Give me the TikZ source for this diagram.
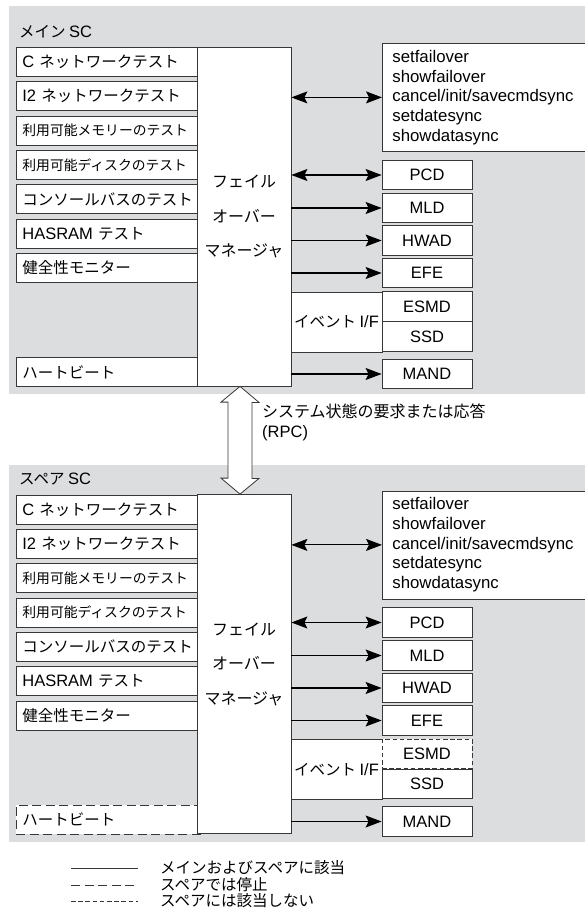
\documentclass[tikz,border=0pt]{standalone}
\usepackage{fontspec}
\setmainfont{Liberation Sans}
\newfontfamily\jp{Noto Sans CJK JP}
\newfontfamily\latn{Liberation Sans}
\usetikzlibrary{arrows.meta,calc}

\definecolor{panelgray}{RGB}{220,221,223}
\definecolor{edgegray}{RGB}{55,55,55}

\newcommand{\jpfont}{\jp\fontsize{15.5}{18}\selectfont}
\newcommand{\ltfont}{\latn\fontsize{16.5}{19.7}\selectfont}
\newcommand{\ltn}[1]{{\ltfont #1}}

\tikzset{
  panel/.style={fill=panelgray, draw=none},
  boxline/.style={draw=edgegray, line width=0.8pt},
  testbox/.style={boxline, fill=white, anchor=north west, minimum height=29pt,
    text width=175pt, inner xsep=6pt, inner ysep=0pt, align=left, font=\jpfont},
  narrowtext/.style={font=\jp\fontsize{13.8}{16}\selectfont},
  mgrbox/.style={boxline, fill=white, minimum width=94pt, minimum height=339pt,
    align=center, font=\jp\fontsize{16}{34.5}\selectfont},
  cmdbox/.style={boxline, fill=white, anchor=north west, minimum height=108pt,
    text width=198pt, inner xsep=10pt, align=left, font=\latn\fontsize{16.8}{19.7}\selectfont},
  dbox/.style={boxline, fill=white, minimum width=90pt, minimum height=29.5pt,
    inner sep=0pt, font=\ltfont},
  evbox/.style={boxline, fill=white, minimum width=91pt, minimum height=60pt,
    inner sep=0pt, font=\jpfont},
  titletext/.style={anchor=west, inner sep=0pt, font=\jpfont},
  dblarrow/.style={line width=1.1pt, {Stealth[length=16pt,width=12pt,inset=3pt]}-{Stealth[length=16pt,width=12pt,inset=3pt]}},
  sglarrow/.style={line width=1.1pt, -{Stealth[length=16pt,width=12pt,inset=3pt]}},
  rpcarrow/.style={draw=edgegray, fill=white, line width=0.8pt, line join=miter},
  hbline/.style={},
  esmdline/.style={},
  longdash/.style={dash pattern=on 9pt off 4.5pt},
  shortdash/.style={dash pattern=on 4.5pt off 2.7pt},
}

% one SC panel: #1 name prefix, #2 title, #3 top of the gray area
\newcommand{\scpanel}[3]{%
  % background
  \fill[panel] (9,#3) rectangle (600,394);
  \node[titletext] (#1title) at (19,32) {#2};

  % tests on the left
  \node[testbox] (#1t1) at (16,47) {\ltn{C} ネットワークテスト};
  \node[testbox] (#1t2) at (16,81.3) {\ltn{I2} ネットワークテスト};
  \node[testbox, narrowtext] (#1t3) at (16,115.6) {利用可能メモリーのテスト};
  \node[testbox, narrowtext] (#1t4) at (16,150) {利用可能ディスクのテスト};
  \node[testbox] (#1t5) at (16,184.3) {コンソールバスのテスト};
  \node[testbox] (#1t6) at (16,218.6) {\ltn{HASRAM} テスト};
  \node[testbox] (#1t7) at (16,253) {健全性モニター};
  \node[testbox, hbline] (#1hb) at (16,357) {ハートビート};

  % failover manager
  \node[mgrbox] (#1fom) at (244,216.5) {フェイル\\オーバー\\マネージャ};

  % commands and daemons
  \node[cmdbox] (#1cmd) at (382,43) {setfailover\\showfailover\\cancel/init/savecmdsync\\setdatesync\\showdatasync};
  \node[dbox] (#1pcd) at (427,175) {PCD};
  \node[dbox] (#1mld) at (427,208) {MLD};
  \node[dbox] (#1hwad) at (427,240.5) {HWAD};
  \node[dbox] (#1efe) at (427,273) {EFE};
  \node[evbox] (#1ev) at (336.5,322) {イベント \ltn{I/F}};
  \node[dbox] (#1ssd) at (427,336.5) {SSD};
  \node[dbox, esmdline] (#1esmd) at (427,306.5) {ESMD};
  \node[dbox] (#1mand) at (427,374) {MAND};

  % links
  \draw[dblarrow] (#1fom.east |- #1cmd) -- (#1cmd.west);
  \draw[dblarrow] (#1fom.east |- #1pcd) -- (#1pcd);
  \draw[sglarrow] (#1fom.east |- #1mld) -- (#1mld);
  \draw[sglarrow] (#1fom.east |- #1hwad) -- (#1hwad);
  \draw[sglarrow] (#1fom.east |- #1efe) -- (#1efe);
  \draw[sglarrow] (#1fom.east |- #1mand) -- (#1mand);
}

\begin{document}
\begin{tikzpicture}[x=1pt, y=-1pt]
\useasboundingbox (0,0) rectangle (585,918);

% main SC
\scpanel{m-}{メイン \ltn{SC}}{6}

% spare SC
\begin{scope}[shift={(0,447.5)}, hbline/.style={longdash}, esmdline/.style={shortdash}]
  \scpanel{s-}{スペア \ltn{SC}}{17.5}
\end{scope}

% RPC between the two
\coordinate (rpctop) at ($(m-fom.south)+(-4,0)$);
\coordinate (rpcbot) at ($(s-fom.north)+(-4,0)$);
\draw[rpcarrow] (rpctop) -- ++(19,16) -- ++(-7,0) -- ++(0,76) -- ++(7,0) -- (rpcbot)
  -- ++(-19,-16) -- ++(7,0) -- ++(0,-76) -- ++(-7,0) -- cycle;
\node[anchor=west, inner sep=0pt, align=left, font=\jp\fontsize{16}{20}\selectfont] (rpclbl) at (262,422)
  {システム状態の要求または応答\\\ltn{(RPC)}};

% legend
\coordinate (lg1a) at (71,868); \coordinate (lg1b) at (138,868);
\coordinate (lg2a) at (71,885); \coordinate (lg2b) at (138,885);
\coordinate (lg3a) at (71,901); \coordinate (lg3b) at (138,901);
\draw[boxline] (lg1a) -- (lg1b);
\draw[boxline, longdash] (lg2a) -- (lg2b);
\draw[boxline, shortdash] (lg3a) -- (lg3b);
\node[titletext] (lg1) at (160,868) {メインおよびスペアに該当};
\node[titletext] (lg2) at (160,885) {スペアでは停止};
\node[titletext] (lg3) at (160,901) {スペアには該当しない};

\end{tikzpicture}
\end{document}
